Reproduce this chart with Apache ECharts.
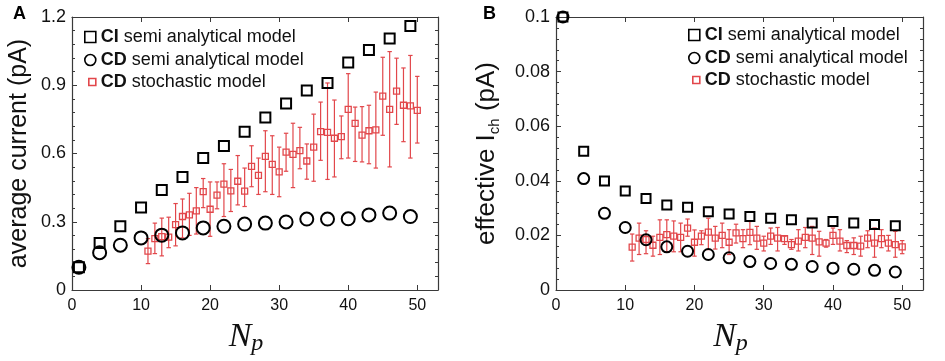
<!DOCTYPE html>
<html>
<head>
<meta charset="utf-8">
<script src="https://cdn.jsdelivr.net/npm/echarts@6/dist/echarts.min.js"></script>
<style>html,body{margin:0;padding:0;background:#fff;}#c{width:945px;height:361px;}</style>
</head>
<body>
<div id="c"></div>
<script>
// ---------- data ----------
const semiNp = [1, 4, 7, 10, 13, 16, 19, 22, 25, 28, 31, 34, 37, 40, 43, 46, 49];
const ciCurrent = [0.10, 0.207, 0.28, 0.363, 0.44, 0.497, 0.58, 0.633, 0.696, 0.758, 0.82, 0.877, 0.91, 1.0, 1.055, 1.106, 1.16];
const cdCurrent = [0.10, 0.164, 0.197, 0.229, 0.241, 0.251, 0.273, 0.28, 0.29, 0.294, 0.299, 0.312, 0.312, 0.313, 0.33, 0.338, 0.323];
const ciEffective = [0.1, 0.0508, 0.0399, 0.0363, 0.0335, 0.0311, 0.0303, 0.0287, 0.0278, 0.0269, 0.0263, 0.0257, 0.0245, 0.0251, 0.0245, 0.024, 0.0235];
const cdEffective = [0.1, 0.0408, 0.0281, 0.0229, 0.0184, 0.0158, 0.0142, 0.013, 0.0118, 0.0104, 0.0097, 0.0094, 0.0086, 0.008, 0.0076, 0.0072, 0.0066];

const stochNp = [11, 12, 13, 14, 15, 16, 17, 18, 19, 20, 21, 22, 23, 24, 25, 26, 27, 28, 29, 30,
                 31, 32, 33, 34, 35, 36, 37, 38, 39, 40, 41, 42, 43, 44, 45, 46, 47, 48, 49, 50];
const stochCurrent = [0.171, 0.226, 0.235, 0.232, 0.287, 0.323, 0.33, 0.348, 0.432, 0.355,
                      0.417, 0.465, 0.436, 0.478, 0.435, 0.543, 0.504, 0.587, 0.552, 0.519,
                      0.606, 0.596, 0.613, 0.567, 0.628, 0.696, 0.693, 0.667, 0.674, 0.794,
                      0.732, 0.681, 0.70, 0.704, 0.852, 0.794, 0.874, 0.812, 0.809, 0.79];
const stochCurrentLow = [0.116, 0.16, 0.15, 0.186, 0.194, 0.229, 0.24, 0.246, 0.362, 0.236,
                         0.357, 0.323, 0.345, 0.374, 0.367, 0.454, 0.42, 0.432, 0.42, 0.41,
                         0.522, 0.45, 0.533, 0.487, 0.478, 0.57, 0.486, 0.497, 0.577, 0.58,
                         0.565, 0.563, 0.555, 0.536, 0.68, 0.541, 0.728, 0.652, 0.58, 0.646];
const stochCurrentHigh = [0.226, 0.294, 0.316, 0.32, 0.38, 0.40, 0.425, 0.45, 0.49, 0.475,
                          0.475, 0.555, 0.53, 0.591, 0.536, 0.634, 0.58, 0.70, 0.678, 0.628,
                          0.689, 0.733, 0.715, 0.642, 0.773, 0.826, 0.91, 0.835, 0.765, 0.951,
                          0.804, 0.806, 0.812, 0.87, 1.023, 1.048, 1.019, 0.976, 1.031, 0.939];
const stochEffective = [0.0157, 0.019, 0.0185, 0.0164, 0.0193, 0.0203, 0.0197, 0.0193, 0.0227, 0.0175,
                        0.0197, 0.0212, 0.019, 0.020, 0.0175, 0.0209, 0.0188, 0.0211, 0.019, 0.0172,
                        0.0197, 0.019, 0.0188, 0.0166, 0.0179, 0.0193, 0.019, 0.0176, 0.0172, 0.020,
                        0.0179, 0.0163, 0.0163, 0.0161, 0.019, 0.0172, 0.0188, 0.0172, 0.0166, 0.0158];
const stochEffectiveLow = [0.0106, 0.013, 0.0133, 0.0124, 0.013, 0.014, 0.014, 0.014, 0.0197, 0.0124,
                           0.0166, 0.0148, 0.015, 0.0155, 0.013, 0.0172, 0.0155, 0.0166, 0.0149, 0.0143,
                           0.0167, 0.0143, 0.0167, 0.0149, 0.0143, 0.0155, 0.013, 0.0124, 0.0157, 0.0167,
                           0.0143, 0.0137, 0.013, 0.0124, 0.0155, 0.012, 0.0155, 0.0143, 0.012, 0.0133];
const stochEffectiveHigh = [0.0205, 0.0245, 0.0217, 0.0197, 0.0257, 0.0257, 0.0253, 0.0245, 0.026, 0.022,
                            0.0217, 0.0263, 0.0233, 0.0245, 0.0221, 0.0241, 0.0221, 0.0251, 0.0233, 0.0197,
                            0.0227, 0.0229, 0.0197, 0.0185, 0.0221, 0.0229, 0.0233, 0.0215, 0.0185, 0.0227,
                            0.0221, 0.0181, 0.0191, 0.0197, 0.0217, 0.0227, 0.0221, 0.020, 0.0215, 0.0181];

const xTicks = [0, 10, 20, 30, 40, 50];
const names = ['CI semi analytical model', 'CD semi analytical model', 'CD stochastic model'];

// ---------- styling ----------
const FONT = 'Liberation Sans, Arial, Helvetica, sans-serif';
const SERIF = 'Liberation Serif, Times New Roman, serif';
const AX = '#3a3a3a';
const RED = '#e2474b';

function pairs(xs, ys) { return xs.map((x, i) => [x, ys[i]]); }
function triples(xs, lo, hi) { return xs.map((x, i) => [x, lo[i], hi[i]]); }

function xAxes(grid) {
  return [
    {
      gridIndex: grid, type: 'value', min: 0, max: 53, interval: 10, position: 'bottom',
      axisLine: { onZero: false, lineStyle: { color: AX, width: 1.2 } },
      axisTick: { inside: true, length: 5, lineStyle: { color: AX, width: 1 } },
      axisLabel: { fontSize: 16, color: '#111', fontFamily: FONT, margin: 8,
        formatter: v => (xTicks.indexOf(v) >= 0 ? String(v) : '') },
      splitLine: { show: false },
      name: '{n|N}{p|p}', nameLocation: 'middle', nameGap: 28,
      nameTextStyle: { padding: [0, 18, 0, 0], rich: {
        n: { fontSize: 34, fontStyle: 'italic', fontFamily: SERIF, color: '#111', lineHeight: 38 },
        p: { fontSize: 24, fontStyle: 'italic', fontFamily: SERIF, color: '#111', lineHeight: 20, verticalAlign: 'bottom' }
      } }
    },
    {
      gridIndex: grid, type: 'value', min: 0, max: 53, interval: 10, position: 'top',
      axisLine: { onZero: false, lineStyle: { color: AX, width: 1.2 } },
      axisTick: { inside: true, length: 5, lineStyle: { color: AX, width: 1 } },
      axisLabel: { show: false }, splitLine: { show: false }
    }
  ];
}

function yAxes(grid, max, interval, name, nameGap, rich) {
  const base = {
    gridIndex: grid, type: 'value', min: 0, max: max, interval: interval,
    axisLine: { onZero: false, lineStyle: { color: AX, width: 1.2 } },
    axisTick: { inside: true, length: 5, lineStyle: { color: AX, width: 1 } },
    minorTick: { show: true, splitNumber: 5, length: 3, lineStyle: { color: AX, width: 1 } },
    splitLine: { show: false }, minorSplitLine: { show: false }
  };
  return [
    Object.assign({}, base, {
      position: 'left',
      axisLabel: { fontSize: 18, color: '#111', fontFamily: FONT, margin: 6 },
      name: name, nameLocation: 'middle', nameGap: nameGap,
      nameTextStyle: rich ? { rich: rich } : { fontSize: 25, color: '#111', fontFamily: FONT }
    }),
    Object.assign({}, base, { position: 'right', axisLabel: { show: false } })
  ];
}

function errorBars(xi, yi, data) {
  return {
    type: 'custom', xAxisIndex: xi, yAxisIndex: yi, z: 1, silent: true,
    data: data, clip: false,
    renderItem: function (params, api) {
      const x = api.value(0);
      const lo = api.coord([x, api.value(1)]);
      const hi = api.coord([x, api.value(2)]);
      const w = 2.2;
      const st = { stroke: RED, lineWidth: 1.2 };
      return { type: 'group', children: [
        { type: 'line', shape: { x1: lo[0], y1: lo[1], x2: hi[0], y2: hi[1] }, style: st },
        { type: 'line', shape: { x1: lo[0] - w, y1: lo[1], x2: lo[0] + w, y2: lo[1] }, style: st },
        { type: 'line', shape: { x1: hi[0] - w, y1: hi[1], x2: hi[0] + w, y2: hi[1] }, style: st }
      ] };
    }
  };
}

function scatter(name, xi, yi, data, symbol, size, color, bw, z) {
  return {
    name: name, type: 'scatter', xAxisIndex: xi, yAxisIndex: yi, data: data, z: z,
    symbol: symbol, symbolSize: size, clip: false,
    itemStyle: { color: 'rgba(255,255,255,0)', borderColor: color, borderWidth: bw, opacity: 1 },
    emphasis: { disabled: true }
  };
}

function legend(name, left, top, icon, size, color, bw) {
  return {
    data: [name], left: left, top: top, padding: 0, icon: icon,
    itemWidth: size, itemHeight: size, selectedMode: false,
    itemStyle: { color: 'rgba(255,255,255,0)', borderColor: color, borderWidth: bw },
    textStyle: { fontSize: 18, fontFamily: FONT, color: '#111', lineHeight: 20,
      rich: { b: { fontSize: 18, fontFamily: FONT, color: '#111', fontWeight: 'bold', lineHeight: 20 } } },
    formatter: function (n) { const p = n.split(' '); return '{b|' + p[0] + '} ' + p.slice(1).join(' '); }
  };
}

const chart = echarts.init(document.getElementById('c'), null, { renderer: 'canvas' });
chart.setOption({
  animation: false,
  backgroundColor: '#fff',
  grid: [
    { left: 72, top: 17, width: 366, height: 276 },
    { left: 556, top: 17, width: 367, height: 276 }
  ],
  xAxis: xAxes(0).concat(xAxes(1)),
  yAxis: yAxes(0, 1.2, 0.3, 'average current (pA)', 40, null)
    .concat(yAxes(1, 0.1, 0.02, '{a|effective I}{s|ch}{a| (pA)}', 54, {
      a: { fontSize: 26, fontFamily: FONT, color: '#111', lineHeight: 30 },
      s: { fontSize: 15, fontFamily: FONT, color: '#111', lineHeight: 15, verticalAlign: 'bottom' }
    })),
  legend: [
    legend(names[0], 84, 27, 'rect', 11, '#000', 1.6),
    legend(names[1], 84, 50, 'circle', 11, '#000', 1.6),
    legend(names[2], 88, 72, 'rect', 7, RED, 1.6),
    legend(names[0], 688, 25, 'rect', 11, '#000', 1.6),
    legend(names[1], 688, 48, 'circle', 11, '#000', 1.6),
    legend(names[2], 692, 70, 'rect', 7, RED, 1.6)
  ],
  graphic: [
    { type: 'text', left: 13, top: 5, style: { text: 'A', font: 'bold 18px ' + FONT, fill: '#000' } },
    { type: 'text', left: 483, top: 5, style: { text: 'B', font: 'bold 18px ' + FONT, fill: '#000' } }
  ],
  series: [
    errorBars(0, 0, triples(stochNp, stochCurrentLow, stochCurrentHigh)),
    scatter(names[2], 0, 0, pairs(stochNp, stochCurrent), 'rect', 6, RED, 1.3, 2),
    scatter(names[0], 0, 0, pairs(semiNp, ciCurrent), 'rect', 10, '#000', 2, 3),
    scatter(names[1], 0, 0, pairs(semiNp, cdCurrent), 'circle', 13, '#000', 2, 3),
    errorBars(2, 2, triples(stochNp, stochEffectiveLow, stochEffectiveHigh)),
    scatter(names[2], 2, 2, pairs(stochNp, stochEffective), 'rect', 6, RED, 1.3, 2),
    scatter(names[0], 2, 2, pairs(semiNp, ciEffective), 'rect', 9, '#000', 2, 3),
    scatter(names[1], 2, 2, pairs(semiNp, cdEffective), 'circle', 11, '#000', 2, 3)
  ]
});
</script>
</body>
</html>
